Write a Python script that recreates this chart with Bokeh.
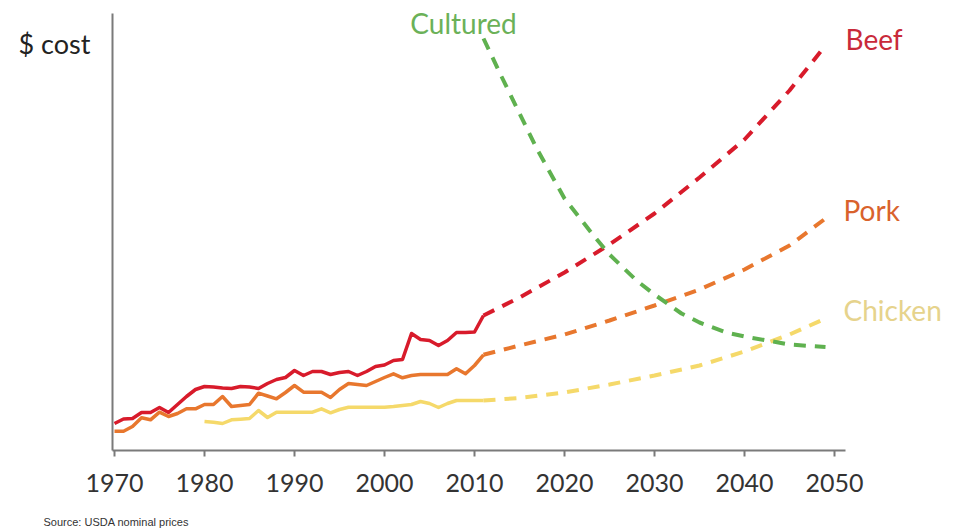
from bokeh.plotting import figure
from bokeh.models import FixedTicker, Label, Range1d
from bokeh.embed import file_html
from bokeh.resources import INLINE

# ---- data (arbitrary cost index) ----
beef_years = list(range(1970, 2012))
beef_hist = [27, 31.5, 32, 38, 38, 43, 38, 46, 54, 61,
             64, 63.5, 62.5, 62, 64, 63.5, 62, 67, 71, 73,
             80, 75, 79, 79, 76, 78, 79, 75, 79, 84,
             85.5, 90, 91, 117, 111, 110, 105, 110, 118, 118,
             118.5, 135]
pork_years = list(range(1970, 2012))
pork_hist = [19.3, 19.3, 24, 32.7, 30.7, 38.3, 34, 37, 41.7, 41.7,
             46, 46, 54, 44, 45, 46, 57.3, 54.5, 51.7, 58,
             65, 58.3, 58.3, 58.3, 53, 61, 67, 66, 65, 69,
             73, 76.7, 72.7, 75, 76, 76, 76, 76, 81.7, 76.7,
             85, 95.7]
chicken_years = list(range(1980, 2012))
chicken_hist = [29, 28.3, 27, 30.7, 31.3, 32, 40, 33, 38.3, 38.3,
                38.3, 38.3, 38.3, 41.7, 37.7, 41, 43.3, 43.3, 43.3, 43.3,
                43.3, 44, 45, 46, 49, 47, 43, 47, 50, 50,
                50, 50]

proj_years = [2011, 2015, 2020, 2025, 2030, 2035, 2040, 2045, 2049]
beef_proj = [135, 153, 178, 206, 237, 273, 311, 360, 405]
pork_proj = [95.7, 105, 116, 130, 145, 161, 181, 205, 232]
chicken_proj = [50, 52.5, 58, 66, 75, 85, 99, 116, 132]

cultured_years = [2011, 2013, 2015, 2017, 2020, 2023, 2025, 2028, 2030,
                  2033, 2035, 2038, 2040, 2045, 2049]
cultured_proj = [412, 374, 337, 300.5, 252, 217.5, 196, 170, 156,
                 137, 128, 118, 114, 106, 103.5]

tick_years = [1970, 1980, 1990, 2000, 2010, 2020, 2030, 2040, 2050]

# ---- styles ----
BEEF = "#d81b2b"
PORK = "#e8772e"
CHICKEN = "#f5d96a"
CULT = "#5fb14f"
FONT = "Lato"

X_AXIS_START, X_AXIS_END = 1969.78, 2051.22
Y_AXIS_END = 437

p = figure(width=971, height=530, output_backend="svg", toolbar_location=None,
           x_range=Range1d(1957.333, 2065.222), y_range=Range1d(-80, 450),
           min_border_left=0, min_border_right=0,
           min_border_top=0, min_border_bottom=0)
p.outline_line_color = None
p.xgrid.grid_line_color = None
p.ygrid.grid_line_color = None
p.background_fill_color = "white"
p.border_fill_color = "white"

ax = p.xaxis[0]
ax.fixed_location = 0
ax.bounds = (X_AXIS_START, X_AXIS_END)
ax.ticker = FixedTicker(ticks=tick_years)
ax.axis_line_color = "#7a7a7a"
ax.axis_line_width = 2
ax.major_tick_line_color = "#7a7a7a"
ax.major_tick_line_width = 2
ax.major_tick_in = 0
ax.major_tick_out = 6
ax.minor_tick_line_color = None
ax.major_label_text_font = FONT
ax.major_label_text_font_size = "25px"
ax.major_label_text_color = "#333333"
ax.major_label_standoff = 17

ay = p.yaxis[0]
ay.fixed_location = X_AXIS_START
ay.bounds = (0, Y_AXIS_END)
ay.ticker = FixedTicker(ticks=[])
ay.axis_line_color = "#7a7a7a"
ay.axis_line_width = 2
ay.major_tick_line_color = None
ay.minor_tick_line_color = None
ay.major_label_text_font_size = "0px"

# historical solid lines
p.line(beef_years, beef_hist, line_color=BEEF, line_width=3.5, line_join="round")
p.line(pork_years, pork_hist, line_color=PORK, line_width=3.5, line_join="round")
p.line(chicken_years, chicken_hist, line_color=CHICKEN, line_width=3.5, line_join="round")

# projections dashed
dash = "12 9"
p.line(proj_years, beef_proj, line_color=BEEF, line_width=4, line_dash=dash)
p.line(proj_years, pork_proj, line_color=PORK, line_width=4, line_dash=dash)
p.line(proj_years, chicken_proj, line_color=CHICKEN, line_width=4, line_dash=dash)
p.line(cultured_years, cultured_proj, line_color=CULT, line_width=4, line_dash=dash)

# series labels
def series_label(text, x, y, color, xo, yo, align="left"):
    p.add_layout(Label(x=x, y=y, text=text, x_offset=xo, y_offset=yo,
                       text_color=color, text_font=FONT, text_font_size="28px",
                       text_align=align, text_baseline="middle"))

series_label("Beef", proj_years[-1], beef_proj[-1], "#c92a3a", 20, 7)
series_label("Pork", proj_years[-1], pork_proj[-1], "#d9622c", 18, 9)
series_label("Chicken", proj_years[-1], chicken_proj[-1], "#e6d38c", 18, 9)
series_label("Cultured", cultured_years[0], cultured_proj[0], "#6bb158", -20, 16, "center")

p.add_layout(Label(x=18, y=487, x_units="screen", y_units="screen", text="$ cost",
                   text_font=FONT, text_font_size="27px", text_color="#222222",
                   text_baseline="middle"))
p.add_layout(Label(x=43, y=9, x_units="screen", y_units="screen",
                   text="Source: USDA nominal prices",
                   text_font="Liberation Sans", text_font_size="11px",
                   text_color="#333333", text_baseline="middle"))

open("out.html", "w").write(file_html(p, INLINE))
